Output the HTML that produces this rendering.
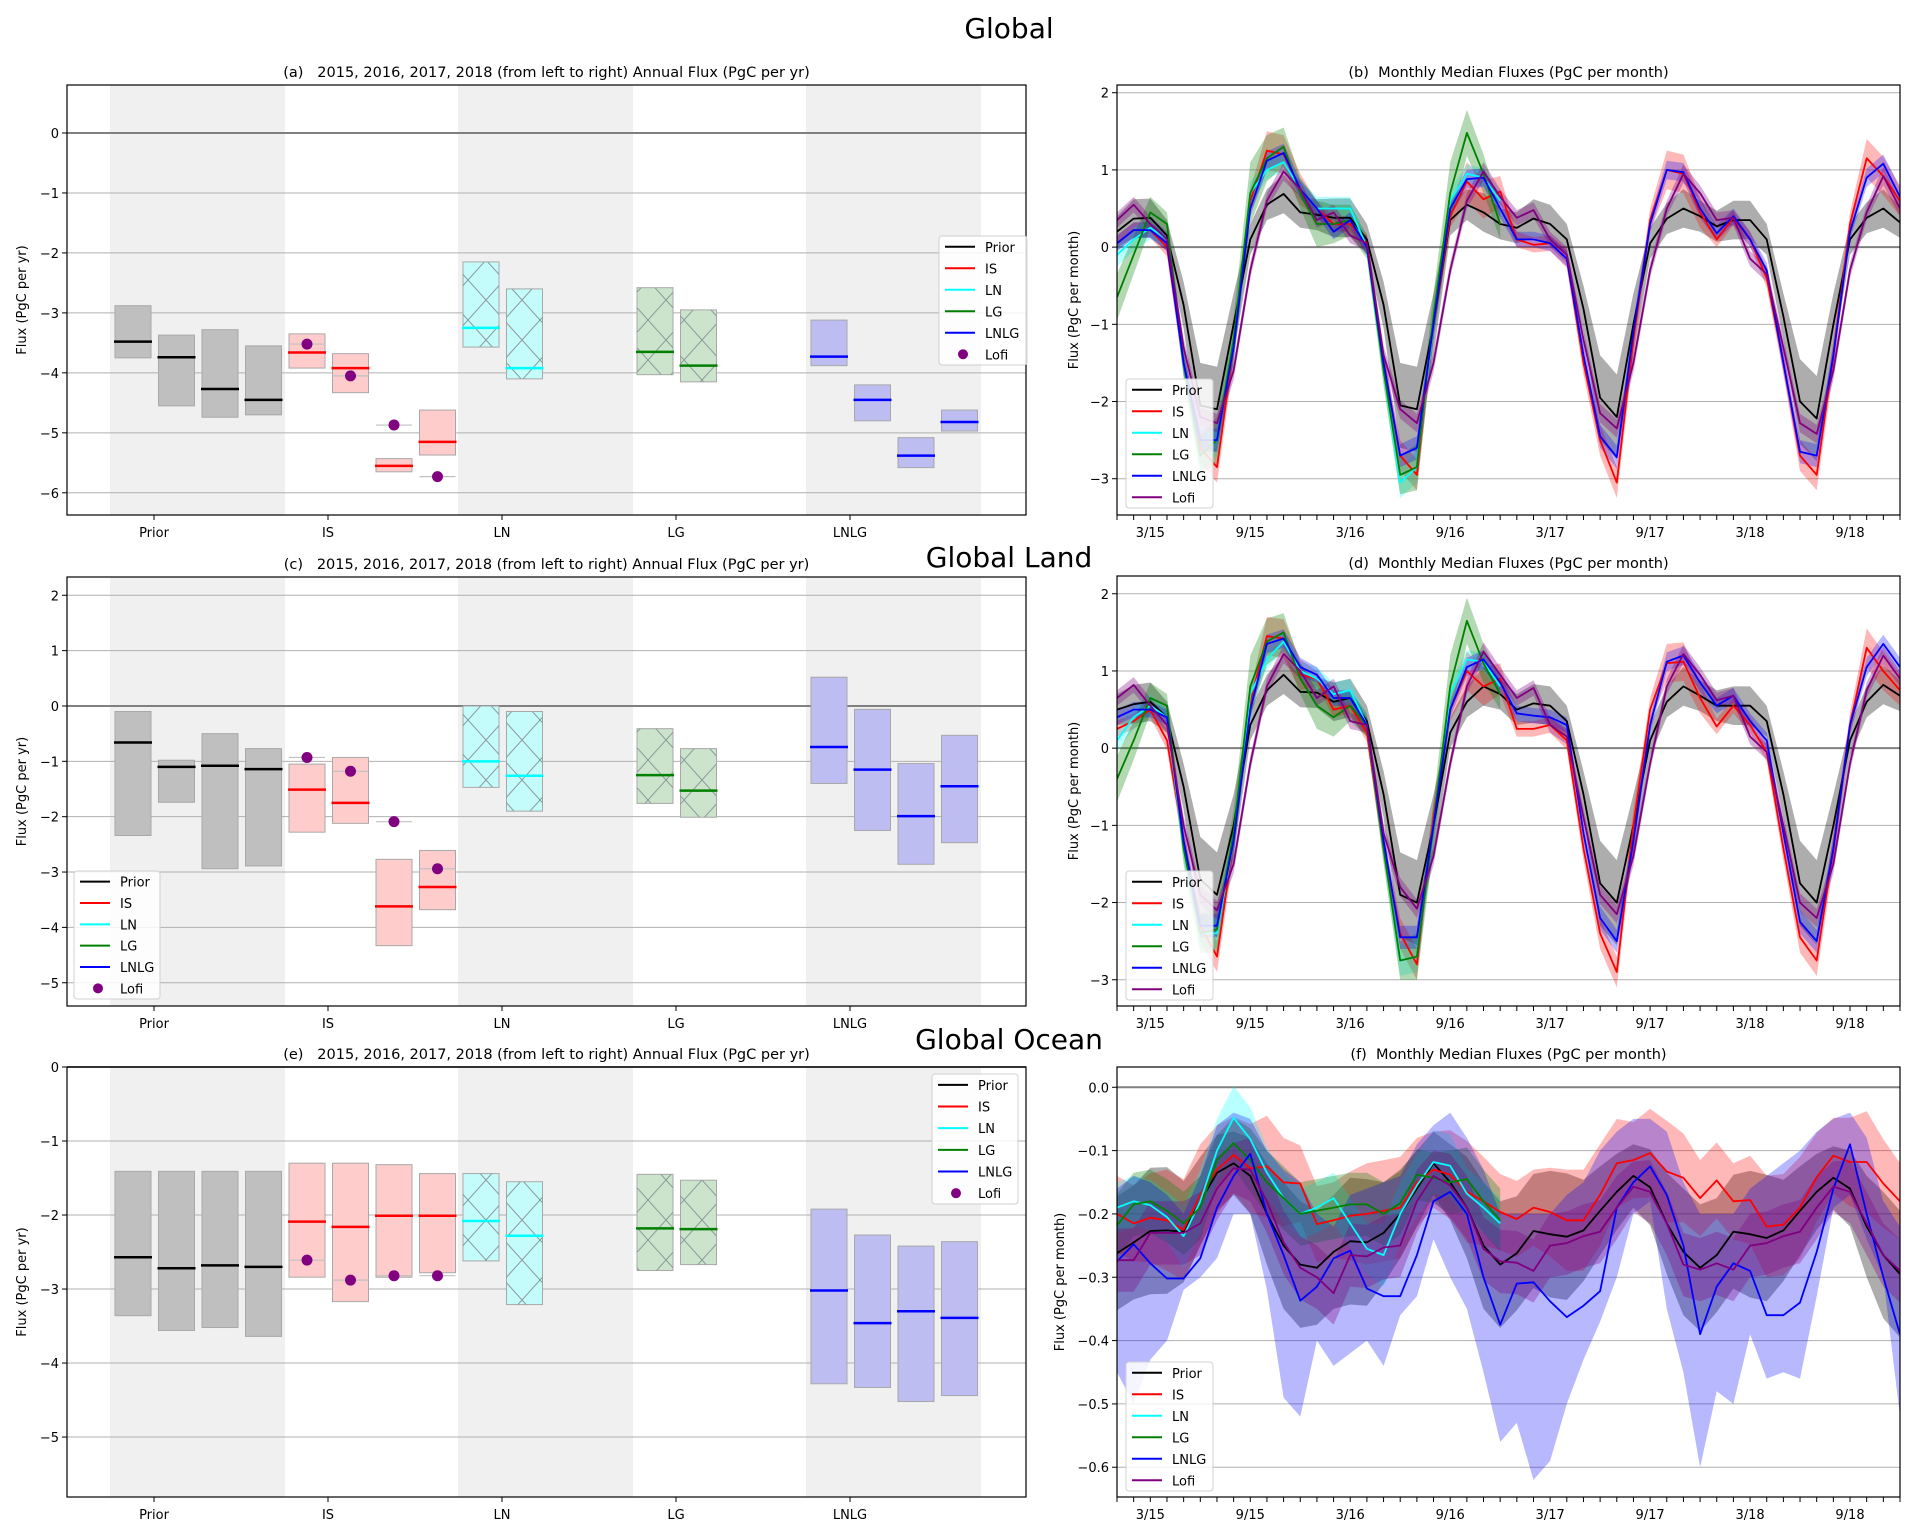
<!DOCTYPE html>
<html><head><meta charset="utf-8"><title>Global flux comparison</title>
<style>
html,body{margin:0;padding:0;background:#fff;}
svg{display:block;font-family:"DejaVu Sans","Liberation Sans",sans-serif;}
</style></head>
<body>
<svg id="chart" width="1917" height="1537" viewBox="0 0 1917 1537" xmlns="http://www.w3.org/2000/svg">
<defs>
<pattern id="hatchX" patternUnits="userSpaceOnUse" width="36" height="40">
<path d="M0,0 L36,40 M36,0 L0,40" stroke="#8a9a9a" stroke-width="1" fill="none"/>
</pattern>
</defs>
</svg>
<script>
// ---------- shared data ----------
const catNames = ['Prior','IS','LN','LG','LNLG'];
const legendNames = ['Prior','IS','LN','LG','LNLG','Lofi'];
const monthTickIdx = [2,8,14,20,26,32,38,44];
const monthTickLabels = ['3/15','9/15','3/16','9/16','3/17','9/17','3/18','9/18'];

// ---------- panel (a) annual global ----------
const aPriorMed = [-3.48,-3.74,-4.27,-4.45];
const aPriorHi  = [-2.88,-3.37,-3.28,-3.55];
const aPriorLo  = [-3.75,-4.55,-4.74,-4.70];
const aIsMed = [-3.66,-3.92,-5.55,-5.15];
const aIsHi  = [-3.35,-3.68,-5.43,-4.62];
const aIsLo  = [-3.92,-4.33,-5.65,-5.37];
const aLofi  = [-3.52,-4.05,-4.87,-5.73];
const aLnMed = [-3.25,-3.92];
const aLnHi  = [-2.15,-2.60];
const aLnLo  = [-3.57,-4.10];
const aLgMed = [-3.65,-3.88];
const aLgHi  = [-2.58,-2.95];
const aLgLo  = [-4.03,-4.15];
const aLnlgMed = [-3.73,-4.45,-5.38,-4.82];
const aLnlgHi  = [-3.12,-4.20,-5.08,-4.62];
const aLnlgLo  = [-3.88,-4.80,-5.58,-4.97];
const aTicks = [0,-1,-2,-3,-4,-5,-6];

// ---------- panel (c) annual land ----------
const cPriorMed = [-0.66,-1.10,-1.08,-1.14];
const cPriorHi  = [-0.10,-0.98,-0.50,-0.77];
const cPriorLo  = [-2.34,-1.74,-2.94,-2.89];
const cIsMed = [-1.51,-1.75,-3.62,-3.27];
const cIsHi  = [-1.05,-0.93,-2.77,-2.61];
const cIsLo  = [-2.28,-2.12,-4.33,-3.68];
const cLofi  = [-0.93,-1.18,-2.09,-2.94];
const cLnMed = [-1.00,-1.26];
const cLnHi  = [0.00,-0.10];
const cLnLo  = [-1.47,-1.90];
const cLgMed = [-1.25,-1.53];
const cLgHi  = [-0.41,-0.77];
const cLgLo  = [-1.76,-2.01];
const cLnlgMed = [-0.74,-1.15,-1.99,-1.45];
const cLnlgHi  = [0.52,-0.06,-1.04,-0.53];
const cLnlgLo  = [-1.40,-2.25,-2.86,-2.47];
const cTicks = [2,1,0,-1,-2,-3,-4,-5];

// ---------- panel (e) annual ocean ----------
const ePriorMed = [-2.57,-2.72,-2.68,-2.70];
const ePriorHi  = [-1.41,-1.41,-1.41,-1.41];
const ePriorLo  = [-3.36,-3.56,-3.52,-3.64];
const eIsMed = [-2.09,-2.16,-2.01,-2.01];
const eIsHi  = [-1.30,-1.30,-1.32,-1.44];
const eIsLo  = [-2.84,-3.17,-2.84,-2.78];
const eLofi  = [-2.61,-2.88,-2.82,-2.82];
const eLnMed = [-2.08,-2.28];
const eLnHi  = [-1.44,-1.55];
const eLnLo  = [-2.62,-3.21];
const eLgMed = [-2.18,-2.19];
const eLgHi  = [-1.45,-1.53];
const eLgLo  = [-2.75,-2.67];
const eLnlgMed = [-3.02,-3.46,-3.30,-3.39];
const eLnlgHi  = [-1.92,-2.27,-2.42,-2.36];
const eLnlgLo  = [-4.28,-4.33,-4.52,-4.44];
const eTicks = [0,-1,-2,-3,-4,-5];

// ---------- panel (b) monthly global ----------
const bPrior = [0.2,0.37,0.38,0.15,-0.75,-2.05,-2.1,-1.0,0.1,0.55,0.69,0.45,
  0.42,0.38,0.38,0.1,-0.75,-2.05,-2.1,-1.0,0.35,0.55,0.45,0.3,
  0.25,0.37,0.3,0.1,-0.8,-1.95,-2.2,-1.0,0.05,0.37,0.5,0.4,
  0.27,0.35,0.35,0.1,-0.9,-2.0,-2.22,-1.0,0.1,0.38,0.5,0.32];
const bIS = [0.05,0.22,0.22,0.0,-1.5,-2.6,-2.85,-1.3,0.6,1.25,1.2,0.75,
  0.5,0.3,0.3,0.05,-1.5,-2.7,-2.95,-1.0,0.4,0.85,0.62,0.72,
  0.1,0.03,0.05,-0.15,-1.5,-2.5,-3.05,-1.2,0.35,1.0,0.95,0.45,
  0.1,0.38,0.1,-0.4,-1.5,-2.7,-2.95,-1.4,0.3,1.15,0.92,0.6];
const bLN = [-0.1,0.1,0.25,0.1,-1.5,-2.7,-2.5,-1.3,0.7,1.0,1.1,0.75,
  0.5,0.5,0.5,0.0,-1.6,-3.05,-2.85,-1.0,0.6,0.95,0.9,0.6];
const bLG = [-0.65,-0.1,0.45,0.3,-1.5,-2.7,-2.5,-1.2,0.7,1.15,1.3,0.7,
  0.3,0.3,0.35,0.0,-1.6,-2.95,-2.85,-0.9,0.7,1.48,0.95,0.3];
const bLNLG = [0.05,0.22,0.22,0.05,-1.5,-2.5,-2.5,-1.3,0.5,1.12,1.22,0.75,
  0.5,0.2,0.35,0.0,-1.5,-2.7,-2.6,-1.0,0.5,0.88,0.9,0.5,
  0.1,0.1,0.05,-0.15,-1.4,-2.45,-2.72,-1.1,0.3,1.0,0.97,0.5,
  0.18,0.4,0.1,-0.3,-1.5,-2.65,-2.7,-1.4,0.2,0.9,1.08,0.65];
const bLofi = [0.35,0.55,0.3,0.1,-1.3,-2.2,-2.28,-1.6,-0.3,0.6,0.98,0.75,
  0.35,0.45,0.15,0.05,-1.4,-2.1,-2.28,-1.5,-0.3,0.6,0.98,0.65,
  0.38,0.48,0.1,-0.1,-1.2,-2.15,-2.35,-1.5,-0.3,0.5,0.95,0.7,
  0.35,0.38,-0.15,-0.35,-1.3,-2.28,-2.42,-1.6,-0.3,0.45,0.92,0.5];

// ---------- panel (d) monthly land ----------
const dPrior = [0.5,0.57,0.6,0.4,-0.5,-1.7,-1.9,-1.0,0.3,0.75,0.95,0.73,
  0.72,0.6,0.65,0.35,-0.6,-1.9,-2.0,-1.0,0.2,0.6,0.8,0.7,
  0.5,0.58,0.55,0.35,-0.6,-1.75,-2.0,-1.0,0.1,0.6,0.8,0.68,
  0.55,0.55,0.55,0.35,-0.6,-1.75,-2.0,-1.0,0.1,0.6,0.82,0.68];
const dIS = [0.25,0.35,0.5,0.1,-1.2,-2.3,-2.7,-1.2,0.6,1.45,1.42,0.95,
  0.9,0.5,0.55,0.2,-1.3,-2.4,-2.8,-0.9,0.5,1.0,0.8,0.9,
  0.25,0.25,0.3,0.1,-1.3,-2.4,-2.9,-1.0,0.5,1.1,1.12,0.65,
  0.28,0.55,0.3,-0.05,-1.3,-2.45,-2.75,-1.3,0.3,1.3,1.0,0.75];
const dLN = [0.1,0.4,0.55,0.4,-1.3,-2.4,-2.4,-1.2,0.7,1.15,1.38,1.0,
  0.9,0.7,0.75,0.3,-1.3,-2.75,-2.7,-1.0,0.7,1.15,1.12,0.8];
const dLG = [-0.4,0.1,0.65,0.55,-1.3,-2.4,-2.35,-1.1,0.8,1.38,1.5,0.9,
  0.55,0.4,0.55,0.3,-1.3,-2.75,-2.7,-1.0,0.8,1.65,1.1,0.7];
const dLNLG = [0.4,0.5,0.5,0.4,-1.2,-2.3,-2.3,-1.2,0.5,1.35,1.42,1.05,
  0.95,0.65,0.65,0.3,-1.2,-2.45,-2.45,-1.0,0.5,1.05,1.15,0.85,
  0.45,0.42,0.4,0.3,-1.1,-2.2,-2.5,-1.2,0.3,1.12,1.2,0.85,
  0.55,0.68,0.35,0.1,-1.1,-2.25,-2.5,-1.3,0.3,1.05,1.35,1.05];
const dLofi = [0.65,0.82,0.55,0.3,-1.0,-1.9,-2.1,-1.5,-0.2,0.8,1.22,1.0,
  0.65,0.8,0.35,0.3,-1.1,-1.8,-2.08,-1.4,-0.2,0.8,1.25,0.95,
  0.65,0.78,0.3,0.15,-0.9,-1.9,-2.15,-1.4,-0.2,0.8,1.22,0.95,
  0.62,0.68,0.15,-0.05,-1.0,-2.0,-2.2,-1.5,-0.2,0.75,1.2,0.9];

// band half-widths by calendar month (Jan..Dec), panels b & d
const priorSpread = [0.2,0.25,0.25,0.2,0.3,0.55,0.55,0.4,0.2,0.2,0.25,0.2];
const isSpread    = [0.1,0.1,0.1,0.12,0.15,0.2,0.2,0.2,0.15,0.25,0.25,0.2];
const lnSpread    = [0.15,0.15,0.15,0.1,0.15,0.2,0.2,0.2,0.15,0.12,0.12,0.12];
const lgSpread    = [0.3,0.25,0.2,0.15,0.2,0.25,0.3,0.3,0.4,0.3,0.25,0.2];
const lnlgSpread  = [0.1,0.1,0.1,0.1,0.12,0.15,0.15,0.15,0.1,0.12,0.12,0.12];
const lofiSpread  = [0.1,0.1,0.1,0.1,0.12,0.12,0.12,0.12,0.1,0.1,0.12,0.1];

// ---------- panel (f) monthly ocean ----------
const fPrior = [-0.262,-0.245,-0.227,-0.226,-0.228,-0.18,-0.135,-0.12,-0.14,-0.2,-0.25,-0.28,
  -0.285,-0.26,-0.243,-0.245,-0.23,-0.2,-0.16,-0.12,-0.15,-0.19,-0.25,-0.28,
  -0.262,-0.227,-0.232,-0.236,-0.226,-0.195,-0.165,-0.14,-0.158,-0.215,-0.26,-0.285,
  -0.265,-0.228,-0.232,-0.238,-0.226,-0.195,-0.165,-0.143,-0.16,-0.22,-0.265,-0.295];
const fIS = [-0.2,-0.215,-0.206,-0.21,-0.225,-0.17,-0.13,-0.107,-0.128,-0.125,-0.15,-0.152,
  -0.216,-0.21,-0.203,-0.2,-0.195,-0.19,-0.15,-0.13,-0.138,-0.165,-0.18,-0.197,
  -0.208,-0.19,-0.197,-0.21,-0.21,-0.17,-0.12,-0.115,-0.104,-0.133,-0.143,-0.175,
  -0.147,-0.18,-0.178,-0.22,-0.217,-0.19,-0.142,-0.108,-0.118,-0.118,-0.152,-0.18];
const fLN = [-0.19,-0.18,-0.186,-0.205,-0.235,-0.18,-0.1,-0.048,-0.082,-0.135,-0.175,-0.2,
  -0.19,-0.175,-0.215,-0.255,-0.265,-0.2,-0.155,-0.118,-0.124,-0.168,-0.19,-0.215];
const fLG = [-0.218,-0.185,-0.18,-0.195,-0.215,-0.19,-0.115,-0.088,-0.115,-0.15,-0.175,-0.2,
  -0.195,-0.19,-0.185,-0.185,-0.2,-0.183,-0.138,-0.143,-0.15,-0.145,-0.18,-0.21];
const fLNLG = [-0.275,-0.248,-0.278,-0.302,-0.302,-0.27,-0.19,-0.14,-0.105,-0.2,-0.265,-0.337,
  -0.315,-0.27,-0.258,-0.318,-0.33,-0.33,-0.265,-0.18,-0.165,-0.2,-0.3,-0.375,
  -0.31,-0.308,-0.338,-0.363,-0.345,-0.322,-0.19,-0.15,-0.125,-0.17,-0.25,-0.39,
  -0.315,-0.278,-0.29,-0.36,-0.36,-0.34,-0.26,-0.16,-0.09,-0.2,-0.3,-0.39];
const fLofi = [-0.273,-0.273,-0.23,-0.23,-0.23,-0.215,-0.16,-0.128,-0.13,-0.18,-0.245,-0.285,
  -0.3,-0.325,-0.265,-0.267,-0.253,-0.25,-0.18,-0.14,-0.155,-0.19,-0.255,-0.275,
  -0.277,-0.29,-0.25,-0.246,-0.235,-0.228,-0.19,-0.157,-0.165,-0.215,-0.28,-0.288,
  -0.278,-0.288,-0.25,-0.246,-0.235,-0.228,-0.19,-0.157,-0.165,-0.215,-0.265,-0.29];
const fLNLGLo = [-0.45,-0.5,-0.43,-0.4,-0.32,-0.3,-0.27,-0.2,-0.2,-0.32,-0.49,-0.52,
  -0.4,-0.44,-0.42,-0.4,-0.44,-0.36,-0.33,-0.24,-0.3,-0.35,-0.45,-0.56,
  -0.53,-0.62,-0.59,-0.5,-0.43,-0.37,-0.3,-0.2,-0.18,-0.35,-0.45,-0.6,
  -0.48,-0.5,-0.39,-0.46,-0.45,-0.46,-0.33,-0.19,-0.17,-0.24,-0.3,-0.52];
const fLNLGHi = [-0.16,-0.14,-0.15,-0.17,-0.2,-0.14,-0.06,-0.04,-0.05,-0.1,-0.13,-0.15,
  -0.2,-0.22,-0.17,-0.16,-0.15,-0.14,-0.09,-0.06,-0.04,-0.08,-0.13,-0.2,
  -0.2,-0.2,-0.2,-0.17,-0.15,-0.1,-0.07,-0.05,-0.05,-0.07,-0.15,-0.2,
  -0.2,-0.2,-0.16,-0.14,-0.12,-0.1,-0.07,-0.05,-0.04,-0.08,-0.18,-0.22];
const priorSpreadF = [0.09,0.09,0.1,0.1,0.08,0.07,0.06,0.05,0.06,0.08,0.1,0.1];
const isSpreadF    = [0.06,0.06,0.07,0.08,0.08,0.08,0.07,0.06,0.07,0.08,0.07,0.06];
const lnSpreadF    = [0.04,0.04,0.04,0.04,0.05,0.05,0.05,0.05,0.05,0.04,0.04,0.04];
const lgSpreadF    = [0.05,0.05,0.05,0.05,0.05,0.05,0.04,0.04,0.05,0.05,0.05,0.05];
const lofiSpreadF  = [0.05,0.05,0.05,0.05,0.05,0.05,0.05,0.04,0.05,0.05,0.05,0.05];
const bTicks = [2,1,0,-1,-2,-3];
const fTicks = [0.0,-0.1,-0.2,-0.3,-0.4,-0.5,-0.6];

// ---------- drawing ----------
const NS = 'http://www.w3.org/2000/svg';
const svg = document.getElementById('chart');
function mk(tag, attrs, parent) {
  const e = document.createElementNS(NS, tag);
  for (const k in attrs) e.setAttribute(k, attrs[k]);
  (parent || svg).appendChild(e);
  return e;
}
function txt(s, attrs, parent) {
  const e = mk('text', attrs, parent);
  e.textContent = s;
  return e;
}
const COL = {Prior:'#000000', IS:'#ff0000', LN:'#00ffff', LG:'#008000', LNLG:'#0000ff', Lofi:'#800080'};
const BOXFILL = {Prior:'#bfbfbf', IS:'#ffcccc', LN:'#c4fcfc', LG:'#cce3cc', LNLG:'#bdbdf2'};
const BANDFILL = {Prior:'rgba(0,0,0,0.32)', IS:'rgba(255,0,0,0.28)', LN:'rgba(0,255,255,0.28)', LG:'rgba(0,128,0,0.3)', LNLG:'rgba(0,0,255,0.28)', Lofi:'rgba(128,0,128,0.32)'};
function fmt(v, dec) {
  const s = Math.abs(v).toFixed(dec);
  return (v < 0 ? '\u2212' : '') + s;
}

// big titles
const t1 = txt('Global', {x:1009, y:38, 'font-size':28, 'text-anchor':'middle'});


const t2 = txt('Global Land', {x:1009, y:567, 'font-size':28, 'text-anchor':'middle'});


const t3 = txt('Global Ocean', {x:1009, y:1049, 'font-size':28, 'text-anchor':'middle'});



function drawLegend(g, lx, ly, w, h, lofiAsLine) {
  const box = mk('rect', {x:lx, y:ly, width:w, height:h, rx:3, fill:'rgba(255,255,255,0.85)', stroke:'#d0d0d0'}, g);
  
  
  const step = h / 6;
  legendNames.forEach((n, i) => {
    const cy = ly + step * (i + 0.5);
    if (n === 'Lofi' && !lofiAsLine) {
      const d = mk('circle', {cx:lx + 24, cy:cy, r:5, fill:COL.Lofi}, g);
      
      
    } else {
      const l = mk('line', {x1:lx + 6, x2:lx + 36, y1:cy, y2:cy, stroke:COL[n], 'stroke-width':2}, g);
      
      
    }
    const t = txt(n, {x:lx + 46, y:cy + 5, 'font-size':13}, g);
    
    
  });
}

// ---------- left (annual) panels ----------
const LX0 = 67, LX1 = 1026;
function barX(c, k) { return 115 + 174 * c + 43.5 * k; }
function drawLeft(p) {
  const g = mk('g', {});
  
  
  const Y = v => p.top + (p.ymax - v) / (p.ymax - p.ymin) * (p.bot - p.top);
  [0, 2, 4].forEach(c => {
    const r = mk('rect', {x:110 + 174 * c, y:p.top, width:175, height:p.bot - p.top, fill:'#f0f0f0'}, g);
    
    
  });
  p.ticks.forEach(t => {
    const l = mk('line', {x1:LX0, x2:LX1, y1:Y(t), y2:Y(t), stroke: t === 0 ? '#808080' : '#b0b0b0', 'stroke-width': t === 0 ? 2 : 1}, g);
    
    
    const tk = mk('line', {x1:LX0 - 5, x2:LX0, y1:Y(t), y2:Y(t), stroke:'#000'}, g);
    
    
    const lb = txt(fmt(t, 0), {x:LX0 - 8, y:Y(t) + 5, 'font-size':13, 'text-anchor':'end'}, g);
    
    
  });
  p.series.forEach(s => {
    s.med.forEach((m, k) => {
      const x = barX(s.cat, k);
      const r = mk('rect', {x:x, y:Y(s.hi[k]), width:36, height:Y(s.lo[k]) - Y(s.hi[k]), fill:BOXFILL[s.name], stroke:'#a8a8a8', 'stroke-width':1}, g);
      
      
      if (s.name === 'LN' || s.name === 'LG') {
        const h = mk('rect', {x:x, y:Y(s.hi[k]), width:36, height:Y(s.lo[k]) - Y(s.hi[k]), fill:'url(#hatchX)'}, g);
        
        
      }
      const ml = mk('line', {x1:x - 1, x2:x + 37, y1:Y(m), y2:Y(m), stroke:COL[s.name], 'stroke-width':2.5}, g);
      
      
    });
  });
  p.lofi.forEach((v, k) => {
    const x = barX(1, k);
    const gl = mk('line', {x1:x, x2:x + 36, y1:Y(v), y2:Y(v), stroke:'#c0c0c0', 'stroke-width':1.2}, g);
    
    
    const d = mk('circle', {cx:x + 18, cy:Y(v), r:5.5, fill:COL.Lofi}, g);
    
    
  });
  const fr = mk('rect', {x:LX0, y:p.top, width:LX1 - LX0, height:p.bot - p.top, fill:'none', stroke:'#000', 'stroke-width':1.2}, g);
  
  
  catNames.forEach((c, i) => {
    const x = 154 + 174 * i;
    const tk = mk('line', {x1:x, x2:x, y1:p.bot, y2:p.bot + 5, stroke:'#000'}, g);
    
    
    const lb = txt(c, {x:x, y:p.bot + 22, 'font-size':13, 'text-anchor':'middle'}, g);
    
    
  });
  const tt = txt('(' + p.id + ')\u00a0\u00a0\u00a02015, 2016, 2017, 2018 (from left to right) Annual Flux (PgC per yr)', {x:(LX0 + LX1) / 2, y:p.top - 8, 'font-size':14.5, 'text-anchor':'middle'}, g);
  
  
  const yl = txt('Flux (PgC per yr)', {x:0, y:0, 'font-size':13, 'text-anchor':'middle', transform:'translate(26,' + ((p.top + p.bot) / 2) + ') rotate(-90)'}, g);
  
  
  drawLegend(g, p.leg[0], p.leg[1], p.leg[2], p.leg[3], false);
}

drawLeft({id:'a', top:85, bot:515, ymin:-6.37, ymax:0.8, ticks:aTicks, lofi:aLofi, leg:[939,236,88,129],
  series:[{name:'Prior',cat:0,med:aPriorMed,hi:aPriorHi,lo:aPriorLo},{name:'IS',cat:1,med:aIsMed,hi:aIsHi,lo:aIsLo},
  {name:'LN',cat:2,med:aLnMed,hi:aLnHi,lo:aLnLo},{name:'LG',cat:3,med:aLgMed,hi:aLgHi,lo:aLgLo},{name:'LNLG',cat:4,med:aLnlgMed,hi:aLnlgHi,lo:aLnlgLo}]});
drawLeft({id:'c', top:577, bot:1006, ymin:-5.42, ymax:2.33, ticks:cTicks, lofi:cLofi, leg:[74,871,86,128],
  series:[{name:'Prior',cat:0,med:cPriorMed,hi:cPriorHi,lo:cPriorLo},{name:'IS',cat:1,med:cIsMed,hi:cIsHi,lo:cIsLo},
  {name:'LN',cat:2,med:cLnMed,hi:cLnHi,lo:cLnLo},{name:'LG',cat:3,med:cLgMed,hi:cLgHi,lo:cLgLo},{name:'LNLG',cat:4,med:cLnlgMed,hi:cLnlgHi,lo:cLnlgLo}]});
drawLeft({id:'e', top:1067, bot:1497, ymin:-5.81, ymax:0.0, ticks:eTicks, lofi:eLofi, leg:[932,1074,86,130],
  series:[{name:'Prior',cat:0,med:ePriorMed,hi:ePriorHi,lo:ePriorLo},{name:'IS',cat:1,med:eIsMed,hi:eIsHi,lo:eIsLo},
  {name:'LN',cat:2,med:eLnMed,hi:eLnHi,lo:eLnLo},{name:'LG',cat:3,med:eLgMed,hi:eLgHi,lo:eLgLo},{name:'LNLG',cat:4,med:eLnlgMed,hi:eLnlgHi,lo:eLnlgLo}]});

// ---------- right (monthly) panels ----------
const RX0 = 1117, RX1 = 1900;
const XM = m => RX0 + m * (RX1 - RX0) / 47;
function drawRight(p) {
  const g = mk('g', {});
  
  
  const Y = v => p.top + (p.ymax - v) / (p.ymax - p.ymin) * (p.bot - p.top);
  const clip = mk('clipPath', {id:'clip-' + p.id}, g);
  mk('rect', {x:RX0, y:p.top, width:RX1 - RX0, height:p.bot - p.top}, clip);
  p.ticks.forEach(t => {
    const l = mk('line', {x1:RX0, x2:RX1, y1:Y(t), y2:Y(t), stroke: t === 0 ? '#808080' : '#b0b0b0', 'stroke-width': t === 0 ? 2 : 1}, g);
    
    
    const tk = mk('line', {x1:RX0 - 5, x2:RX0, y1:Y(t), y2:Y(t), stroke:'#000'}, g);
    
    
    const lb = txt(fmt(t, p.dec), {x:RX0 - 8, y:Y(t) + 5, 'font-size':13, 'text-anchor':'end'}, g);
    
    
  });
  const pg = mk('g', {'clip-path':'url(#clip-' + p.id + ')'}, g);
  
  
  p.series.forEach(s => {
    const lo = s.vals.map((v, i) => s.lo ? s.lo[i] : v - s.spread[i % 12]);
    const hi = s.vals.map((v, i) => s.hi ? s.hi[i] : v + s.spread[i % 12]);
    let d = '';
    hi.forEach((v, i) => { d += (i ? 'L' : 'M') + XM(i).toFixed(1) + ',' + Y(v).toFixed(1); });
    for (let i = lo.length - 1; i >= 0; i--) d += 'L' + XM(i).toFixed(1) + ',' + Y(lo[i]).toFixed(1);
    const b = mk('path', {d:d + 'Z', fill:BANDFILL[s.name], stroke:'none'}, pg);
    
    
  });
  p.series.forEach(s => {
    const pts = s.vals.map((v, i) => XM(i).toFixed(1) + ',' + Y(v).toFixed(1)).join(' ');
    const l = mk('polyline', {points:pts, fill:'none', stroke:COL[s.name], 'stroke-width':1.8, 'stroke-linejoin':'round'}, pg);
    
    
  });
  const fr = mk('rect', {x:RX0, y:p.top, width:RX1 - RX0, height:p.bot - p.top, fill:'none', stroke:'#000', 'stroke-width':1.2}, g);
  
  
  for (let m = 0; m < 48; m++) {
    const tk = mk('line', {x1:XM(m), x2:XM(m), y1:p.bot, y2:p.bot + 5, stroke:'#000'}, g);
    
    
  }
  monthTickIdx.forEach((m, i) => {
    const lb = txt(monthTickLabels[i], {x:XM(m), y:p.bot + 22, 'font-size':13, 'text-anchor':'middle'}, g);
    
    
  });
  const tt = txt('(' + p.id + ')\u00a0\u00a0Monthly Median Fluxes (PgC per month)', {x:(RX0 + RX1) / 2, y:p.top - 8, 'font-size':14.5, 'text-anchor':'middle'}, g);
  
  
  const yl = txt('Flux (PgC per month)', {x:0, y:0, 'font-size':13, 'text-anchor':'middle', transform:'translate(' + p.ylx + ',' + ((p.top + p.bot) / 2) + ') rotate(-90)'}, g);
  
  
  drawLegend(g, 1126, p.legY, 87, 129, true);
}

drawRight({id:'b', top:85, bot:515, ymin:-3.47, ymax:2.1, ticks:bTicks, dec:0, ylx:1078, legY:379,
  series:[{name:'Prior',vals:bPrior,spread:priorSpread},{name:'IS',vals:bIS,spread:isSpread},{name:'LN',vals:bLN,spread:lnSpread},
  {name:'LG',vals:bLG,spread:lgSpread},{name:'LNLG',vals:bLNLG,spread:lnlgSpread},{name:'Lofi',vals:bLofi,spread:lofiSpread}]});
drawRight({id:'d', top:576, bot:1006, ymin:-3.34, ymax:2.23, ticks:bTicks, dec:0, ylx:1078, legY:871,
  series:[{name:'Prior',vals:dPrior,spread:priorSpread},{name:'IS',vals:dIS,spread:isSpread},{name:'LN',vals:dLN,spread:lnSpread},
  {name:'LG',vals:dLG,spread:lgSpread},{name:'LNLG',vals:dLNLG,spread:lnlgSpread},{name:'Lofi',vals:dLofi,spread:lofiSpread}]});
drawRight({id:'f', top:1067, bot:1497, ymin:-0.647, ymax:0.032, ticks:fTicks, dec:1, ylx:1064, legY:1362,
  series:[{name:'Prior',vals:fPrior,spread:priorSpreadF},{name:'IS',vals:fIS,spread:isSpreadF},{name:'LN',vals:fLN,spread:lnSpreadF},
  {name:'LG',vals:fLG,spread:lgSpreadF},{name:'LNLG',vals:fLNLG,lo:fLNLGLo,hi:fLNLGHi},{name:'Lofi',vals:fLofi,spread:lofiSpreadF}]});
</script>
</body></html>
